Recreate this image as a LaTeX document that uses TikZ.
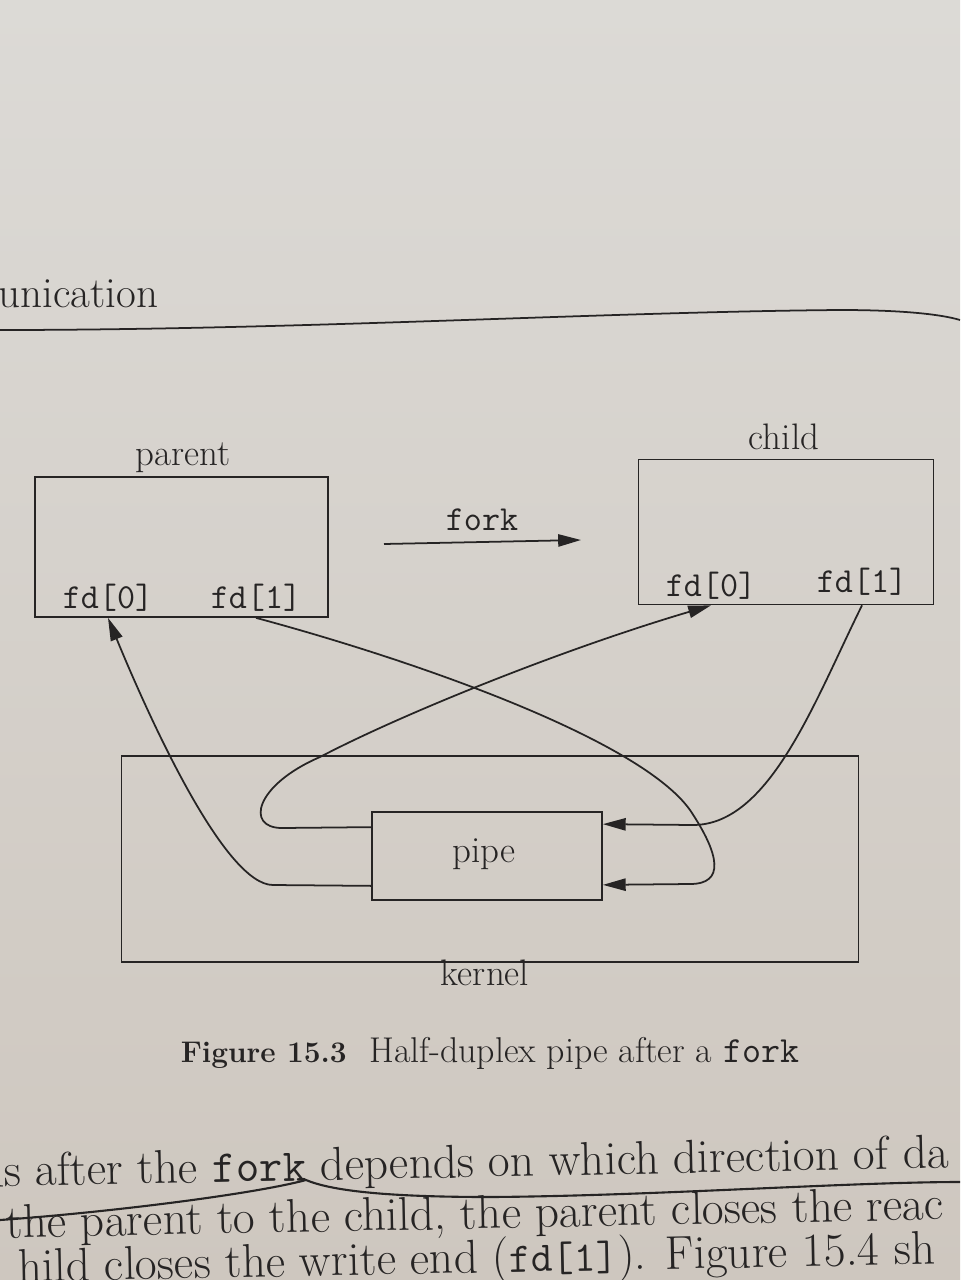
\documentclass[tikz,border=0pt]{standalone}
\usepackage{fontspec}
\usetikzlibrary{arrows.meta,calc}
\definecolor{inkc}{RGB}{38,36,36}
\definecolor{pagetop}{RGB}{220,218,214}
\definecolor{pagebot}{RGB}{206,199,191}
\begin{document}
\begin{tikzpicture}[x=0.02cm,y=-0.02cm,
  ink/.style={draw=inkc,line width=1pt},
  box/.style={ink,rectangle,inner sep=0pt},
  lbl/.style={text=inkc,font=\fontsize{21}{24}\selectfont,inner sep=1pt},
  fdl/.style={text=inkc,font=\ttfamily\fontsize{20}{24}\selectfont,inner sep=1pt},
  conn/.style={ink},
  tip/.style={-{Triangle[length=13pt,width=7pt]}},
  body/.style={text=inkc,font=\fontsize{27}{30}\selectfont,anchor=base west,inner sep=0pt,rotate=1.13}
]
\shade[top color=pagetop,bottom color=pagebot] (0,0) rectangle (960,1280);
\useasboundingbox (0,0) rectangle (960,1280);
\begin{scope}
\clip (0,0) rectangle (960,1280);
% header
\node[anchor=base west,font=\fontsize{24.5}{28}\selectfont,text=inkc,inner sep=0pt] (head) at (-2,307) {unication};
\draw[ink] (0,330) .. controls (300,330) and (600,312) .. (840,310) .. controls (900,310) and (940,314) .. (960,320);
% boxes
\node[box,minimum width=5.86cm,minimum height=2.8cm] (parent) at (181.5,547) {};
\node[lbl] (parentl) at (183,458) {parent};
\node[fdl] (pfd0) at (108,598) {fd[0]};
\node[fdl] (pfd1) at (256,598) {fd[1]};
\node[box,minimum width=5.9cm,minimum height=2.9cm] (child) at (786,532) {};
\node[lbl] (childl) at (784,437) {child};
\node[fdl] (cfd0) at (711,586) {fd[0]};
\node[fdl] (cfd1) at (862,582) {fd[1]};
\node[box,minimum width=14.74cm,minimum height=4.12cm] (kernel) at (490,859) {};
\node[lbl] (kernell) at (485,973) {kernel};
\node[box,minimum width=4.6cm,minimum height=1.76cm] (pipe) at (487,856) {};
\node[lbl] (pipel) at (484,854) {pipe};
% fork arrow
\node[fdl] (forkl) at (482,520) {fork};
\coordinate (fs) at (384,544);
\coordinate (fe) at (581,540);
\draw[conn,tip] (fs) -- (fe);
% connectors
\draw[conn,tip] ($(pipe.south west)+(0,-15)$) -- (273,885) .. controls (225,885) and (150,720) .. (pfd0 |- parent.south);
\draw[conn,tip] (pfd1 |- parent.south) .. controls (420,662) and (640,740) .. (690,810) .. controls (720,855) and (725,884) .. (690,884) -- ($(pipe.south east)+(0,-16)$);
\draw[conn,tip] ($(pipe.north west)+(0,16)$) -- (282,828) .. controls (245,828) and (255,785) .. (320,757) .. controls (400,715) and (560,650) .. (cfd0 |- child.south);
\draw[conn,tip] (cfd1 |- child.south) .. controls (815,700) and (770,825) .. (693,825) -- ($(pipe.north east)+(0,13)$);
% caption
\node[text=inkc,anchor=base,inner sep=0pt] (cap) at (490,1062) {{\fontsize{17}{20}\selectfont\bfseries Figure 15.3}\hspace{0.45cm}{\fontsize{20.4}{24}\selectfont Half-duplex pipe after a }{\ttfamily\fontsize{21}{24}\selectfont fork}};
% body text
\node[body] (b1) at (-20,1187) {ns after the {\ttfamily\fontsize{26}{30}\selectfont fork} depends on which direction of da};
\node[body] (b2) at (6,1238) {the parent to the child, the parent closes the reac};
\node[body] (b3) at (18,1282) {hild closes the write end ({\ttfamily\fontsize{24}{28}\selectfont fd[1]}). Figure 15.4 sh};
\draw[draw=inkc,line width=1.2pt] (0,1220) .. controls (100,1213) and (250,1195) .. (306,1180) .. controls (330,1190) and (380,1197) .. (490,1197) .. controls (650,1196) and (850,1182) .. (960,1182);
\end{scope}
\end{tikzpicture}
\end{document}
